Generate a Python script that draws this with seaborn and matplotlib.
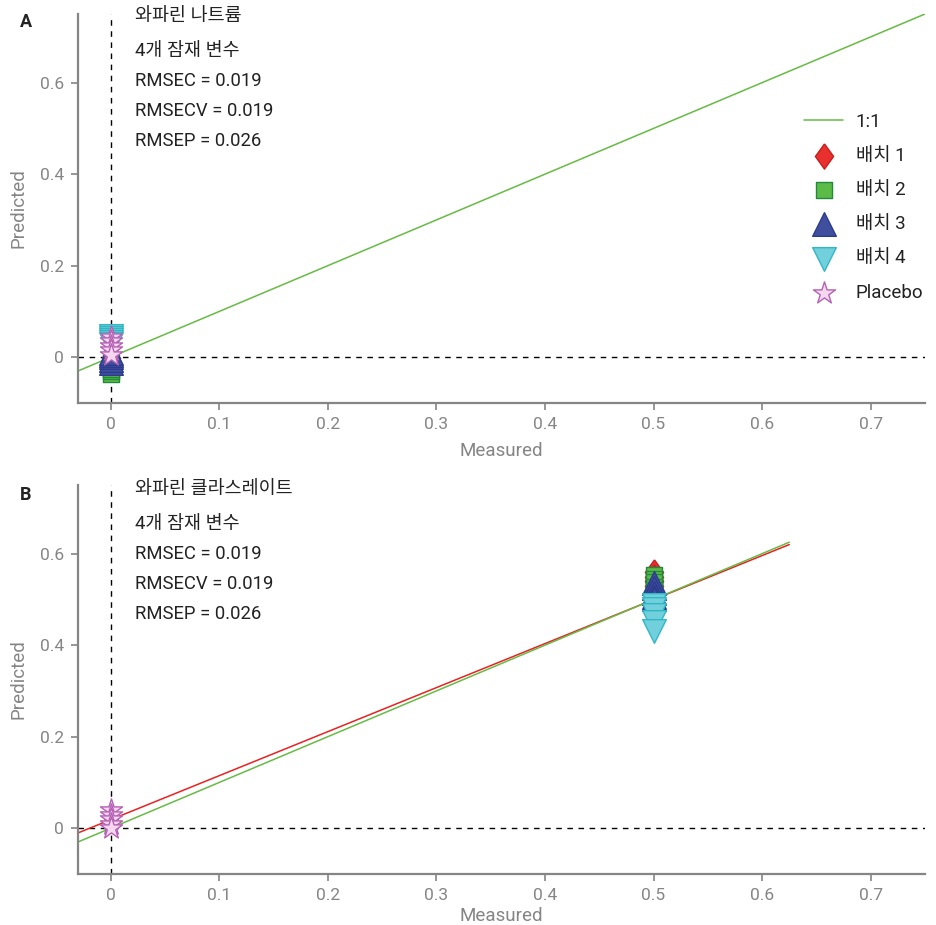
import numpy as np
import pandas as pd
import matplotlib
matplotlib.use("Agg")
import matplotlib.pyplot as plt
import seaborn as sns
from matplotlib.ticker import FuncFormatter

sns.set_theme(style="ticks")
plt.rcParams["font.family"] = ["Roboto", "Noto Sans CJK KR", "DejaVu Sans"]

# ---- data -------------------------------------------------------------
groups = ["배치 1", "배치 2", "배치 3", "배치 4", "Placebo"]

# Panel A: warfarin sodium (all samples measured at 0)
a_measured = [0.0, 0.0, 0.0, 0.0, 0.0]
a_batch1 = [-0.026, -0.020, -0.014, -0.008, -0.002]
a_batch2 = [-0.036, -0.031, -0.026, -0.020, -0.012]
a_batch3 = [-0.012, -0.006, 0.000, 0.005, 0.010]
a_batch4 = [0.046, 0.042, 0.038, 0.034, 0.030]
a_placebo = [0.045, 0.035, 0.025, 0.015, 0.005]

# Panel B: warfarin clathrate (batches measured at 0.5, placebo at 0)
b_measured = [0.5, 0.5, 0.5, 0.5, 0.5]
b_placebo_measured = [0.0, 0.0, 0.0, 0.0, 0.0]
b_batch1 = [0.560, 0.550, 0.540, 0.530, 0.520]
b_batch2 = [0.553, 0.545, 0.537, 0.528, 0.520]
b_batch3 = [0.535, 0.525, 0.515, 0.505, 0.500]
b_batch4 = [0.488, 0.478, 0.466, 0.450, 0.432]
b_placebo = [0.040, 0.030, 0.020, 0.010, 0.000]

titles = ["와파린 나트륨", "와파린 클라스레이트"]
stats = ["4개 잠재 변수", "RMSEC = 0.019", "RMSECV = 0.019", "RMSEP = 0.026"]

# fitted calibration line for panel B
fit_intercept = 0.0186
fit_slope = 0.962

x_ticks = [0, 0.1, 0.2, 0.3, 0.4, 0.5, 0.6, 0.7]
y_ticks = [0, 0.2, 0.4, 0.6]

# ---- styles -----------------------------------------------------------
diamond = [(0, 1), (0.72, 0), (0, -1), (-0.72, 0), (0, 1)]
styles = {
    "배치 1": dict(marker=diamond, s=330, color="#e8312f", edgecolor="#c81e1e"),
    "배치 2": dict(marker="s", s=125, color="#5cbb47", edgecolor="#1f8a3c"),
    "배치 3": dict(marker="^", s=290, color="#3f4f9e", edgecolor="#2d3b8c"),
    "배치 4": dict(marker="v", s=290, color="#72d0dc", edgecolor="#2fb8c4"),
    "Placebo": dict(marker="*", s=280, color="#f5d8ef", edgecolor="#b562b5"),
}

gray = "#858585"
txt = "#222222"

fig = plt.figure(figsize=(9.37, 9.25), dpi=100)
ax_a = fig.add_axes([78 / 937, 1 - 403 / 925, (925 - 78) / 937, (403 - 14) / 925])
ax_b = fig.add_axes([78 / 937, 1 - 874 / 925, (925 - 78) / 937, (874 - 485) / 925])

panel_a = {"배치 1": (a_measured, a_batch1), "배치 2": (a_measured, a_batch2),
           "배치 3": (a_measured, a_batch3), "배치 4": (a_measured, a_batch4),
           "Placebo": (a_measured, a_placebo)}
panel_b = {"배치 1": (b_measured, b_batch1), "배치 2": (b_measured, b_batch2),
           "배치 3": (b_measured, b_batch3), "배치 4": (b_measured, b_batch4),
           "Placebo": (b_placebo_measured, b_placebo)}

xlim = (-0.03, 0.75)
ylim = (-0.1, 0.75)

for ax, panel, line_end, xpad in [(ax_a, panel_a, 0.75, 7), (ax_b, panel_b, 0.625, 3)]:
    ax.axvline(0, color="black", lw=1.0, ls=(0, (4, 4)), zorder=1)
    ax.axhline(0, color="black", lw=1.0, ls=(0, (4, 4)), zorder=1)

    line_x = np.array([xlim[0], line_end])
    if ax is ax_b:
        sns.lineplot(x=line_x, y=fit_intercept + fit_slope * line_x, ax=ax,
                     color="#e82222", lw=1.1, zorder=2)
    sns.lineplot(x=line_x, y=line_x, ax=ax, color="#66bb44", lw=1.1, zorder=2,
                 label="1:1" if ax is ax_a else None)

    for g in groups:
        xs, ys = panel[g]
        df = pd.DataFrame({"Measured": xs, "Predicted": ys})
        st = styles[g]
        sns.scatterplot(data=df, x="Measured", y="Predicted", ax=ax,
                        marker=st["marker"], s=st["s"], color=st["color"],
                        edgecolor=st["edgecolor"], linewidth=1.0, zorder=3,
                        label=g if ax is ax_a else None)

    ax.set_xlim(*xlim)
    ax.set_ylim(*ylim)
    ax.set_xticks(x_ticks)
    ax.set_yticks(y_ticks)
    fmt = FuncFormatter(lambda v, p: "%g" % v)
    ax.xaxis.set_major_formatter(fmt)
    ax.yaxis.set_major_formatter(fmt)
    ax.set_xlabel("Measured", color=gray, fontsize=13.5, labelpad=xpad)
    ax.set_ylabel("Predicted", color=gray, fontsize=13.5, labelpad=9)
    sns.despine(ax=ax)
    for sp in ("left", "bottom"):
        ax.spines[sp].set_color(gray)
        ax.spines[sp].set_linewidth(1.6)
    ax.tick_params(colors=gray, labelcolor=gray, labelsize=12.5, length=5,
                   width=1.2, pad=5)

if ax_b.get_legend() is not None:
    ax_b.get_legend().remove()

leg = ax_a.legend(loc="upper left", bbox_to_anchor=(804 / 937, 1 - 113 / 925),
                  bbox_transform=fig.transFigure, frameon=False, fontsize=13.5,
                  handlelength=2.1, handletextpad=0.65, labelspacing=0.86,
                  borderpad=0, borderaxespad=0)
for t in leg.get_texts():
    t.set_color(txt)

# annotations
for top, title, letter in [(16, titles[0], "A"), (489, titles[1], "B")]:
    fig.text(20 / 937, 1 - (top + 6) / 925, letter, fontsize=13,
             fontweight="bold", color=txt, va="center", ha="left")
    fig.text(135 / 937, 1 - top / 925, title, fontsize=13.3, color=txt,
             va="center", ha="left")
    for i, s in enumerate(stats):
        y = top + 35 + 30 * i
        fig.text(135 / 937, 1 - y / 925, s, fontsize=13.3, color=txt,
                 va="center", ha="left")

fig.savefig("out.png", dpi=100)
